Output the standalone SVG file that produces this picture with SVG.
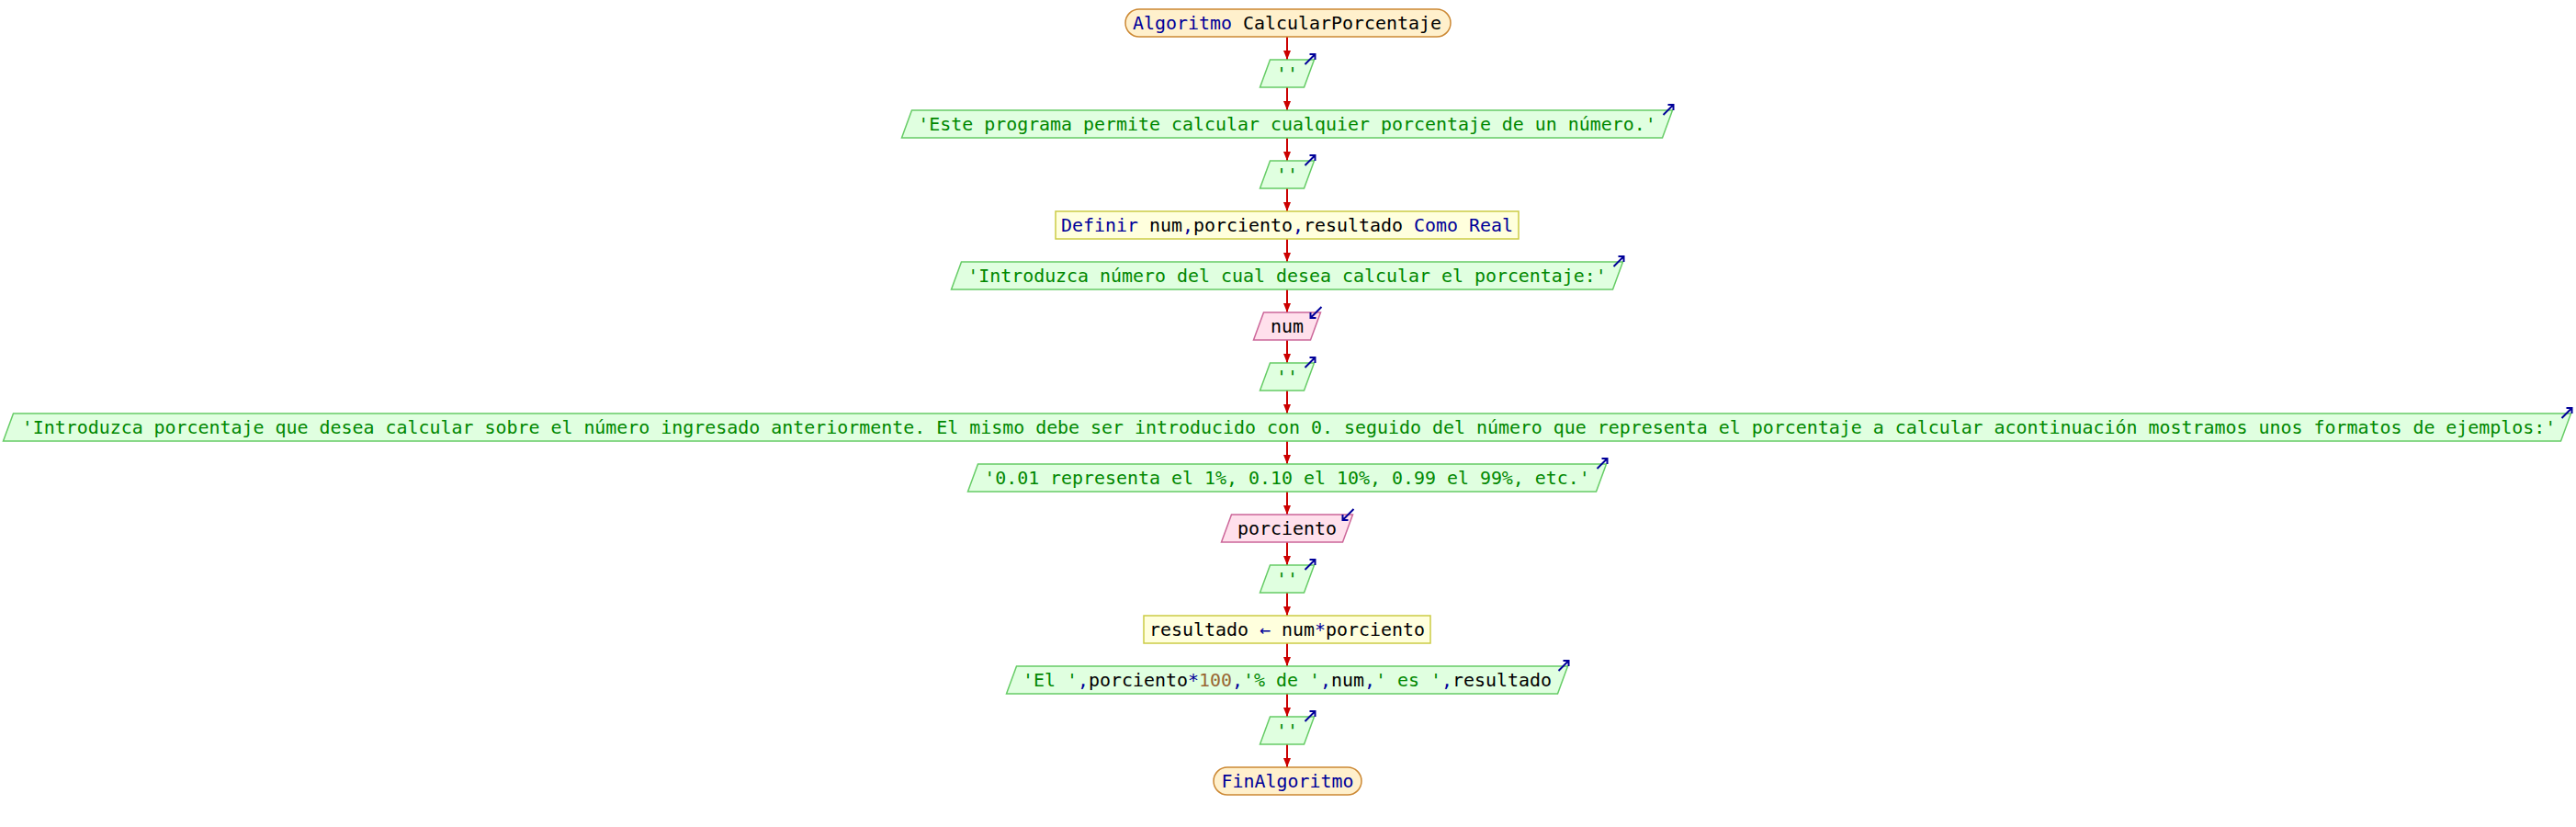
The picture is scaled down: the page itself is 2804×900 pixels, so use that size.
<svg xmlns="http://www.w3.org/2000/svg" xmlns:xlink="http://www.w3.org/1999/xlink" width="2804" height="900" viewBox="0 0 2804 900">
<style>
.term{fill:#fff0cc;stroke:#cc8833;stroke-width:1.5}
.out{fill:#e0ffe0;stroke:#66cc66;stroke-width:1.5}
.in{fill:#ffe0ec;stroke:#cc6699;stroke-width:1.5}
.proc{fill:#ffffdd;stroke:#cccc44;stroke-width:1.5}
text{font-family:"DejaVu Sans Mono","Liberation Mono",monospace;font-size:19.93px;text-anchor:middle}
.k{fill:#000099}.s{fill:#008800}.v{fill:#000000}.n{fill:#996633}
.icon{stroke:#000099;stroke-width:2;fill:none}
.conn{stroke:#cc0000;stroke-width:2;fill:none}
</style>
<defs>
<marker id="ah" markerUnits="userSpaceOnUse" markerWidth="12" markerHeight="8" refX="10" refY="4" orient="auto">
<path d="M0,0 L10,4 L0,8 Z" fill="#cc0000"/>
</marker>
<path id="outIcon" class="icon" d="M-11,11 L0,0 M-6,0 L0,0 L0,6"/>
<path id="inIcon" class="icon" d="M12,-12 L0,0 M0,-6 L0,0 L6,0"/>
</defs>
<rect width="2804" height="900" fill="#ffffff"/>
<g id="connectors">
<path class="conn" marker-end="url(#ah)" d="M1401,40 V65"/>
<path class="conn" marker-end="url(#ah)" d="M1401,95 V120"/>
<path class="conn" marker-end="url(#ah)" d="M1401,150 V175"/>
<path class="conn" marker-end="url(#ah)" d="M1401,205 V230"/>
<path class="conn" marker-end="url(#ah)" d="M1401,260 V285"/>
<path class="conn" marker-end="url(#ah)" d="M1401,315 V340"/>
<path class="conn" marker-end="url(#ah)" d="M1401,370 V395"/>
<path class="conn" marker-end="url(#ah)" d="M1401,425 V450"/>
<path class="conn" marker-end="url(#ah)" d="M1401,480 V505"/>
<path class="conn" marker-end="url(#ah)" d="M1401,535 V560"/>
<path class="conn" marker-end="url(#ah)" d="M1401,590 V615"/>
<path class="conn" marker-end="url(#ah)" d="M1401,645 V670"/>
<path class="conn" marker-end="url(#ah)" d="M1401,700 V725"/>
<path class="conn" marker-end="url(#ah)" d="M1401,755 V780"/>
<path class="conn" marker-end="url(#ah)" d="M1401,810 V835"/>
</g>
<g id="n1">
<rect class="term" x="1225" y="10" width="354" height="30" rx="15"/>
<text x="1401" y="32"><tspan class="k">Algoritmo</tspan><tspan class="v"> CalcularPorcentaje</tspan></text>
</g>
<g id="n2">
<polygon class="out" points="1382.5,65 1430.5,65 1419.5,95 1371.5,95"/>
<text x="1401" y="87" class="s">''</text>
<use xlink:href="#outIcon" x="1431.5" y="59"/>
</g>
<g id="n3">
<polygon class="out" points="992.5,120 1820.5,120 1809.5,150 981.5,150"/>
<text x="1401" y="142" class="s">'Este programa permite calcular cualquier porcentaje de un número.'</text>
<use xlink:href="#outIcon" x="1821.5" y="114"/>
</g>
<g id="n4">
<polygon class="out" points="1382.5,175 1430.5,175 1419.5,205 1371.5,205"/>
<text x="1401" y="197" class="s">''</text>
<use xlink:href="#outIcon" x="1431.5" y="169"/>
</g>
<g id="n5">
<rect class="proc" x="1149" y="230" width="504" height="30"/>
<text x="1401" y="252"><tspan class="k">Definir</tspan><tspan class="v"> num</tspan><tspan class="k">,</tspan><tspan class="v">porciento</tspan><tspan class="k">,</tspan><tspan class="v">resultado </tspan><tspan class="k">Como Real</tspan></text>
</g>
<g id="n6">
<polygon class="out" points="1046.5,285 1766.5,285 1755.5,315 1035.5,315"/>
<text x="1401" y="307" class="s">'Introduzca número del cual desea calcular el porcentaje:'</text>
<use xlink:href="#outIcon" x="1767.5" y="279"/>
</g>
<g id="n7">
<polygon class="in" points="1375.5,340 1437.5,340 1426.5,370 1364.5,370"/>
<text x="1401" y="362" class="v">num</text>
<use xlink:href="#inIcon" x="1426.5" y="346"/>
</g>
<g id="n8">
<polygon class="out" points="1382.5,395 1430.5,395 1419.5,425 1371.5,425"/>
<text x="1401" y="417" class="s">''</text>
<use xlink:href="#outIcon" x="1431.5" y="389"/>
</g>
<g id="n9">
<polygon class="out" points="14.5,450 2798.5,450 2787.5,480 3.5,480"/>
<text x="1403" y="472" class="s">'Introduzca porcentaje que desea calcular sobre el número ingresado anteriormente. El mismo debe ser introducido con 0. seguido del número que representa el porcentaje a calcular acontinuación mostramos unos formatos de ejemplos:'</text>
<use xlink:href="#outIcon" x="2799.5" y="444"/>
</g>
<g id="n10">
<polygon class="out" points="1064.5,505 1748.5,505 1737.5,535 1053.5,535"/>
<text x="1401" y="527" class="s">'0.01 representa el 1%, 0.10 el 10%, 0.99 el 99%, etc.'</text>
<use xlink:href="#outIcon" x="1749.5" y="499"/>
</g>
<g id="n11">
<polygon class="in" points="1340.5,560 1472.5,560 1461.5,590 1329.5,590"/>
<text x="1401" y="582" class="v">porciento</text>
<use xlink:href="#inIcon" x="1461.5" y="566"/>
</g>
<g id="n12">
<polygon class="out" points="1382.5,615 1430.5,615 1419.5,645 1371.5,645"/>
<text x="1401" y="637" class="s">''</text>
<use xlink:href="#outIcon" x="1431.5" y="609"/>
</g>
<g id="n13">
<rect class="proc" x="1245" y="670" width="312" height="30"/>
<text x="1401" y="692"><tspan class="v">resultado </tspan><tspan class="k">←</tspan><tspan class="v"> num</tspan><tspan class="k">*</tspan><tspan class="v">porciento</tspan></text>
</g>
<g id="n14">
<polygon class="out" points="1106.5,725 1706.5,725 1695.5,755 1095.5,755"/>
<text x="1401" y="747"><tspan class="s">'El '</tspan><tspan class="k">,</tspan><tspan class="v">porciento</tspan><tspan class="k">*</tspan><tspan class="n">100</tspan><tspan class="k">,</tspan><tspan class="s">'% de '</tspan><tspan class="k">,</tspan><tspan class="v">num</tspan><tspan class="k">,</tspan><tspan class="s">' es '</tspan><tspan class="k">,</tspan><tspan class="v">resultado</tspan></text>
<use xlink:href="#outIcon" x="1707.5" y="719"/>
</g>
<g id="n15">
<polygon class="out" points="1382.5,780 1430.5,780 1419.5,810 1371.5,810"/>
<text x="1401" y="802" class="s">''</text>
<use xlink:href="#outIcon" x="1431.5" y="774"/>
</g>
<g id="n16">
<rect class="term" x="1321" y="835" width="161" height="30" rx="15"/>
<text x="1401.5" y="857" class="k">FinAlgoritmo</text>
</g>
</svg>
